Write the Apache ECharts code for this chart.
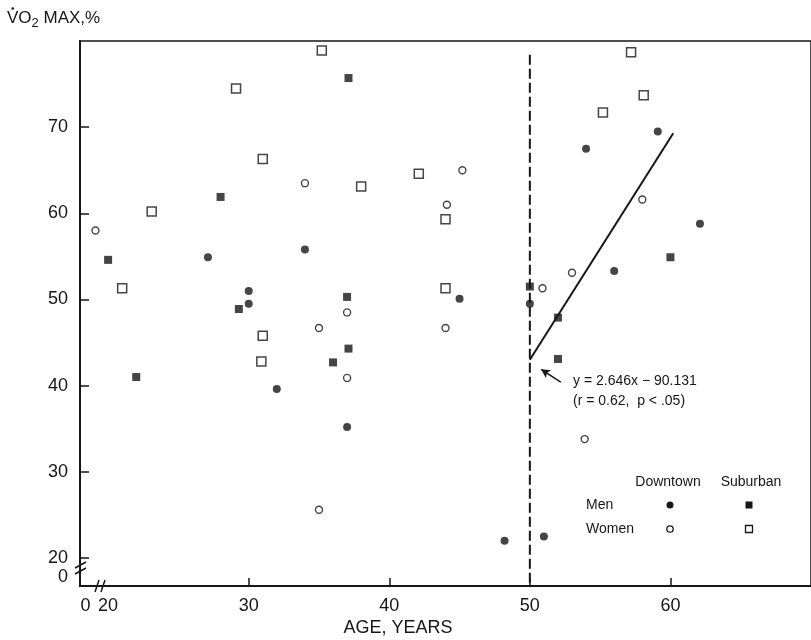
<!DOCTYPE html>
<html>
<head>
<meta charset="utf-8">
<script src="https://cdn.jsdelivr.net/npm/echarts@6/dist/echarts.min.js"></script>
<style>
html,body{margin:0;padding:0;background:#fff;}
#chart{width:811px;height:640px;}
</style>
</head>
<body>
<div id="chart"></div>
<script>
// ---- data (age in years, VO2 max %) ----
const menDowntown = [[27.1,54.9],[34,55.8],[30,51.0],[30,49.5],[32,39.6],[37,35.2],[45,50.1],[50,49.5],[59.1,69.5],[54,67.5],[62.1,58.8],[56,53.3],[51,22.5],[48.2,22.0]];
const menSuburban = [[28,61.9],[20,54.6],[37.1,75.7],[50,51.5],[29.3,48.9],[22,41.0],[37,50.3],[37.1,44.3],[36,42.7],[60,54.9],[52,47.9],[52,43.1]];
const womenDowntown = [[34,63.5],[19.1,58.0],[45.2,65.0],[44.1,61.0],[50.9,51.3],[37,48.5],[35,46.7],[37,40.9],[35,25.6],[44,46.7],[58,61.6],[53,53.1],[53.9,33.8]];
const womenSuburban = [[29.1,74.5],[31,66.3],[23.1,60.2],[21,51.3],[35.2,78.9],[38,63.1],[42.1,64.6],[44,59.3],[44,51.3],[31,45.8],[30.9,42.8],[57.2,78.7],[58.1,73.7],[55.2,71.7]];
const regressionLine = [[50,43.0],[60.2,69.3]];
const dividerLine = [[50,78.4],[50,16.9]];
const arrowFrom = [52.2,40.4];
const arrowTo = [50.8,41.9];
const xTicks = [30,40,50,60];
const xLabels = [18.4,20,30,40,50,60];
const yTicks = [20,30,40,50,60,70];
const yLabels = [17.8,20,30,40,50,60,70];
const equationText = 'y = 2.646x \u2212 90.131';
const statText = '(r = 0.62,  p < .05)';

const FONT = '"Liberation Sans", Arial, Helvetica, sans-serif';
const INK = '#161616';

const chart = echarts.init(document.getElementById('chart'), null, {renderer:'canvas'});
const option = {
  animation: false,
  backgroundColor: '#fff',
  textStyle: {fontFamily: FONT, color: INK},
  grid: {left: 80, top: 41, width: 735, height: 545, show: true, borderColor: INK, borderWidth: 1.5, backgroundColor: '#fff'},
  xAxis: {
    type: 'value', min: 18, max: 70,
    splitLine: {show: false},
    axisLine: {lineStyle: {color: INK, width: 2}},
    axisTick: {inside: true, length: 8, lineStyle: {color: INK, width: 1.5}, customValues: xTicks},
    axisLabel: {customValues: xLabels, fontSize: 18, color: INK, fontFamily: FONT, margin: 11,
      formatter: v => (v < 20 ? '0' : String(v))}
  },
  yAxis: {
    type: 'value', min: 16.75, max: 80,
    splitLine: {show: false},
    axisLine: {lineStyle: {color: INK, width: 2}},
    axisTick: {inside: true, length: 9, lineStyle: {color: INK, width: 1.5}, customValues: yTicks},
    axisLabel: {customValues: yLabels, fontSize: 18, color: INK, fontFamily: FONT, margin: 12,
      formatter: v => (v < 20 ? '0' : String(v))}
  },
  series: [
    {type: 'line', data: dividerLine, symbol: 'none', z: 1,
     lineStyle: {color: INK, width: 2, type: [10, 4]}},
    {type: 'line', data: regressionLine, symbol: 'none', z: 2,
     lineStyle: {color: INK, width: 2},
     markLine: {silent: true, symbol: ['none', 'arrow'], symbolSize: [7, 9],
       lineStyle: {color: INK, width: 1.5, type: 'solid'}, label: {show: false},
       data: [[{coord: arrowFrom}, {coord: arrowTo}]]}},
    {type: 'scatter', name: 'Men Downtown', data: menDowntown, symbol: 'circle', symbolSize: 8, z: 3,
     itemStyle: {color: INK}},
    {type: 'scatter', name: 'Men Suburban', data: menSuburban, symbol: 'rect', symbolSize: 8, z: 3,
     itemStyle: {color: INK}},
    {type: 'scatter', name: 'Women Downtown', data: womenDowntown, symbol: 'circle', symbolSize: 7, z: 3,
     itemStyle: {color: '#fff', borderColor: INK, borderWidth: 1.4}},
    {type: 'scatter', name: 'Women Suburban', data: womenSuburban, symbol: 'rect', symbolSize: 9, z: 3,
     itemStyle: {color: '#fff', borderColor: INK, borderWidth: 1.5}}
  ],
  graphic: [
    // y axis title
    {type: 'text', left: 7, top: 10, style: {
      text: '{a|VO}{s|2}{a| MAX,%}', fill: INK,
      rich: {a: {fontSize: 17, fontFamily: FONT, fill: INK}, s: {fontSize: 13, fontFamily: FONT, fill: INK, padding: [10, 0, 0, 0]}}
    }},
    {type: 'circle', shape: {cx: 12.8, cy: 8.5, r: 1.3}, style: {fill: INK}},
    // x axis title
    {type: 'text', x: 398, y: 628, style: {text: 'AGE, YEARS', fontSize: 18, fontFamily: FONT, fill: INK, align: 'center', verticalAlign: 'middle'}},
    // regression annotation
    {type: 'text', x: 573, y: 381, style: {text: equationText, fontSize: 14, fontFamily: FONT, fill: INK, verticalAlign: 'middle'}},
    {type: 'text', x: 573, y: 401, style: {text: statText, fontSize: 14, fontFamily: FONT, fill: INK, verticalAlign: 'middle'}},
    // legend table
    {type: 'text', x: 668, y: 482, style: {text: 'Downtown', fontSize: 14, fontFamily: FONT, fill: INK, align: 'center', verticalAlign: 'middle'}},
    {type: 'text', x: 751, y: 482, style: {text: 'Suburban', fontSize: 14, fontFamily: FONT, fill: INK, align: 'center', verticalAlign: 'middle'}},
    {type: 'text', x: 586, y: 505, style: {text: 'Men', fontSize: 14, fontFamily: FONT, fill: INK, verticalAlign: 'middle'}},
    {type: 'text', x: 586, y: 529, style: {text: 'Women', fontSize: 14, fontFamily: FONT, fill: INK, verticalAlign: 'middle'}},
    {type: 'circle', shape: {cx: 670, cy: 505, r: 3.5}, style: {fill: INK}},
    {type: 'rect', shape: {x: 745.5, y: 501.5, width: 7, height: 7}, style: {fill: INK}},
    {type: 'circle', shape: {cx: 670, cy: 529, r: 3.2}, style: {fill: '#fff', stroke: INK, lineWidth: 1.3}},
    {type: 'rect', shape: {x: 745.5, y: 525.5, width: 7, height: 7}, style: {fill: '#fff', stroke: INK, lineWidth: 1.3}},
    // axis break marks
    {type: 'polyline', shape: {points: [[75, 568], [86, 562]]}, style: {stroke: INK, lineWidth: 1.5}, z: 10},
    {type: 'polyline', shape: {points: [[75, 574], [86, 568]]}, style: {stroke: INK, lineWidth: 1.5}, z: 10},
    {type: 'polyline', shape: {points: [[95, 592], [99, 580]]}, style: {stroke: INK, lineWidth: 1.5}, z: 10},
    {type: 'polyline', shape: {points: [[101, 592], [105, 580]]}, style: {stroke: INK, lineWidth: 1.5}, z: 10}
  ]
};
chart.setOption(option);
</script>
</body>
</html>
